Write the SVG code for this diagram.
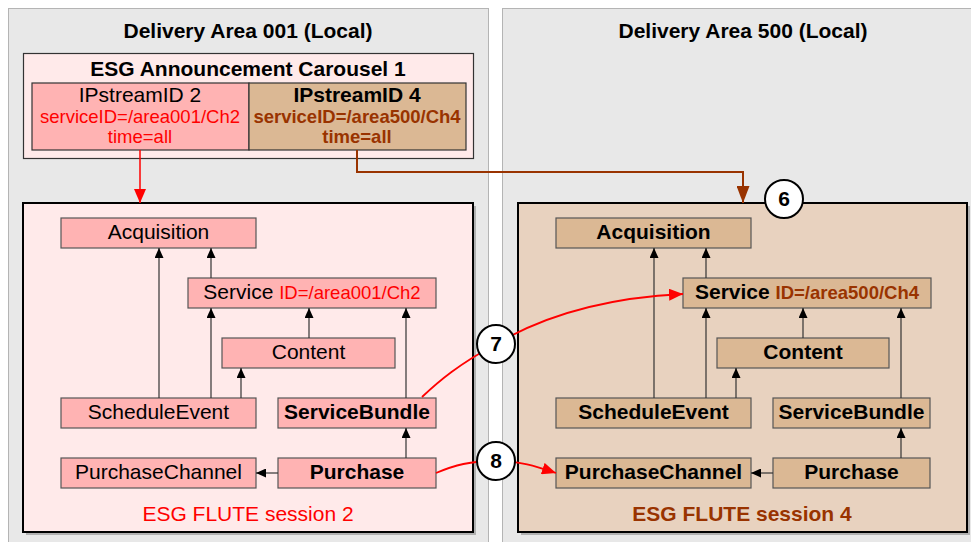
<svg xmlns="http://www.w3.org/2000/svg" width="971" height="542" viewBox="0 0 971 542">
<style>
text{font-family:"Liberation Sans",Arial,Helvetica,sans-serif;text-anchor:middle;fill:#000}
.panel{fill:#e8e8e8;stroke:#b4b4b4;stroke-width:1}
.shadow{fill:#8c8c8c;opacity:0.6}
.sessL{fill:#ffeaea;stroke:#000;stroke-width:2}
.sessR{fill:#e8d2bf;stroke:#000;stroke-width:2}
.boxL{fill:#ffb3b3;stroke:#555;stroke-width:1.2}
.boxR{fill:#dbb894;stroke:#555;stroke-width:1.2}
.car{fill:#ffeaea;stroke:#333;stroke-width:1.2}
.t{font-size:21px}
.s{font-size:18.5px}
.b{font-weight:bold}
.red{fill:#ff0000}
.brn{fill:#993300}
.conn{stroke:#333;stroke-width:1.2;fill:none;marker-end:url(#ah)}
.rc{stroke:#ff0000;stroke-width:1.8;fill:none}
.circ{fill:#fff;stroke:#000;stroke-width:2}
.num{font-size:21px;font-weight:bold}
</style>
<defs>
<marker id="ah" markerUnits="userSpaceOnUse" markerWidth="10" markerHeight="9" refX="10" refY="4.5" orient="auto"><path d="M0,0 L10,4.5 L0,9 z" fill="#000"/></marker>
<marker id="ahRed" markerUnits="userSpaceOnUse" markerWidth="14" markerHeight="12" refX="14" refY="6" orient="auto"><path d="M0,0 L14,6 L0,12 z" fill="#ff0000"/></marker>
<marker id="ahBrn" markerUnits="userSpaceOnUse" markerWidth="17" markerHeight="13" refX="17" refY="6.5" orient="auto"><path d="M0,0 L17,6.5 L0,13 z" fill="#993300"/></marker>
</defs>

<g id="area001">
<rect class="panel" x="8.5" y="8.5" width="480" height="540"/>
<text class="t b" x="248" y="38">Delivery Area 001 (Local)</text>
</g>
<g id="area500">
<rect class="panel" x="502.5" y="8.5" width="480" height="540"/>
<text class="t b" x="743" y="38">Delivery Area 500 (Local)</text>
</g>

<g id="carousel">
<rect class="car" x="23.5" y="53.5" width="450" height="105"/>
<text class="t b" x="248" y="76">ESG Announcement Carousel 1</text>
</g>
<g id="ipstream2">
<rect class="boxL" x="32" y="83" width="217" height="67" style="stroke:#333"/>
<text class="t" x="140" y="102">IPstreamID 2</text>
<text class="s red" x="140" y="123">serviceID=/area001/Ch2</text>
<text class="s red" x="140" y="143">time=all</text>
</g>
<g id="ipstream4">
<rect class="boxR" x="249" y="83" width="217" height="67" style="stroke:#333"/>
<text class="t b" x="357" y="102">IPstreamID 4</text>
<text class="s b brn" x="357" y="123">serviceID=/area500/Ch4</text>
<text class="s b brn" x="357" y="143">time=all</text>
</g>

<g id="session2">
<rect class="shadow" x="26" y="206" width="450" height="329"/>
<rect class="sessL" x="23" y="203" width="450" height="329"/>
<text class="t red" x="248" y="521">ESG FLUTE session 2</text>
</g>
<g id="session4">
<rect class="shadow" x="521" y="206" width="449" height="329"/>
<rect class="sessR" x="518" y="203" width="449" height="329"/>
<text class="t b brn" x="742" y="521">ESG FLUTE session 4</text>
</g>

<g id="L-acquisition"><rect class="boxL" x="61" y="218" width="195" height="30"/><text class="t" x="158.5" y="239">Acquisition</text></g>
<g id="L-service"><rect class="boxL" x="188" y="278" width="248" height="30"/><text class="t" x="312" y="299">Service <tspan class="s red">ID=/area001/Ch2</tspan></text></g>
<g id="L-content"><rect class="boxL" x="222" y="338" width="173" height="30"/><text class="t" x="308.5" y="359">Content</text></g>
<g id="L-scheduleevent"><rect class="boxL" x="61" y="398" width="195" height="30"/><text class="t" x="158.5" y="419">ScheduleEvent</text></g>
<g id="L-servicebundle"><rect class="boxL" x="278" y="398" width="158" height="30"/><text class="t b" x="357" y="419">ServiceBundle</text></g>
<g id="L-purchasechannel"><rect class="boxL" x="61" y="458" width="195" height="30"/><text class="t" x="158.5" y="479">PurchaseChannel</text></g>
<g id="L-purchase"><rect class="boxL" x="278" y="458" width="158" height="30"/><text class="t b" x="357" y="479">Purchase</text></g>

<g id="R-acquisition"><rect class="boxR" x="556" y="218" width="195" height="30"/><text class="t b" x="653.5" y="239">Acquisition</text></g>
<g id="R-service"><rect class="boxR" x="683" y="278" width="248" height="30"/><text class="t b" x="807" y="299">Service <tspan class="s brn">ID=/area500/Ch4</tspan></text></g>
<g id="R-content"><rect class="boxR" x="717" y="338" width="172" height="30"/><text class="t b" x="803" y="359">Content</text></g>
<g id="R-scheduleevent"><rect class="boxR" x="556" y="398" width="195" height="30"/><text class="t b" x="653.5" y="419">ScheduleEvent</text></g>
<g id="R-servicebundle"><rect class="boxR" x="773" y="398" width="157" height="30"/><text class="t b" x="851.5" y="419">ServiceBundle</text></g>
<g id="R-purchasechannel"><rect class="boxR" x="556" y="458" width="195" height="30"/><text class="t b" x="653.5" y="479">PurchaseChannel</text></g>
<g id="R-purchase"><rect class="boxR" x="773" y="458" width="157" height="30"/><text class="t b" x="851.5" y="479">Purchase</text></g>

<g id="connectors">
<line class="conn" x1="159" y1="398" x2="159" y2="248"/>
<line class="conn" x1="211" y1="398" x2="211" y2="308"/>
<line class="conn" x1="211" y1="278" x2="211" y2="248"/>
<line class="conn" x1="241" y1="398" x2="241" y2="368"/>
<line class="conn" x1="309" y1="338" x2="309" y2="308"/>
<line class="conn" x1="406" y1="398" x2="406" y2="308"/>
<line class="conn" x1="406" y1="458" x2="406" y2="428"/>
<line class="conn" x1="278" y1="473" x2="256" y2="473"/>

<line class="conn" x1="654" y1="398" x2="654" y2="248"/>
<line class="conn" x1="706" y1="398" x2="706" y2="308"/>
<line class="conn" x1="706" y1="278" x2="706" y2="248"/>
<line class="conn" x1="736" y1="398" x2="736" y2="368"/>
<line class="conn" x1="803" y1="338" x2="803" y2="308"/>
<line class="conn" x1="901" y1="398" x2="901" y2="308"/>
<line class="conn" x1="901" y1="458" x2="901" y2="428"/>
<line class="conn" x1="773" y1="473" x2="751" y2="473"/>

<line x1="140" y1="150" x2="140" y2="203" stroke="#ff0000" stroke-width="1.5" marker-end="url(#ahRed)"/>
<polyline points="357,150 357,172 743,172 743,203" fill="none" stroke="#993300" stroke-width="2" marker-end="url(#ahBrn)"/>
<path class="rc" d="M422,397 C440,380 458,365 496,344 C540,318 600,298 683,294" marker-end="url(#ahRed)"/>
<path class="rc" d="M436,473 C455,465 470,461 496,461 C520,461 535,466 556,473" marker-end="url(#ahRed)"/>
</g>

<g id="badge6"><circle class="circ" cx="784" cy="199" r="19"/><text class="num" x="784" y="206">6</text></g>
<g id="badge7"><circle class="circ" cx="496" cy="344" r="19"/><text class="num" x="496" y="351">7</text></g>
<g id="badge8"><circle class="circ" cx="496" cy="461" r="19"/><text class="num" x="496" y="468">8</text></g>
</svg>
